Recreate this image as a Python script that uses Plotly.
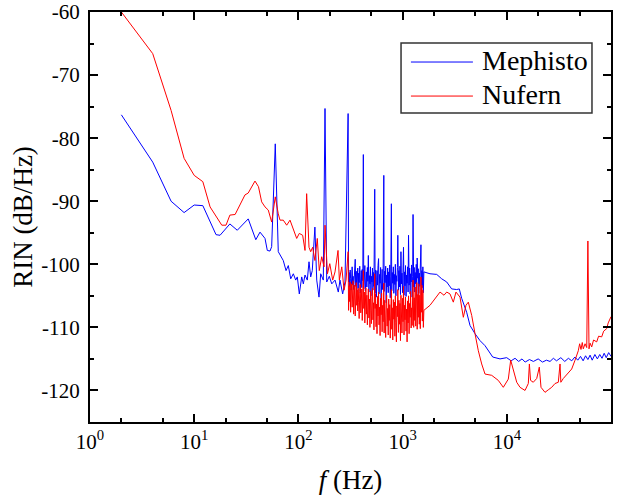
import plotly.graph_objects as go

# ---------------- data ----------------
# Mephisto (blue)
meph_f_low = [2, 4, 6, 8, 10, 12.1, 16.2, 17.7, 22, 25.9, 33, 39, 42.8, 47.8, 50.3, 53.4, 55.4,
              60, 64.1, 67.6, 71.6, 76.1, 80, 84.4, 89.4, 94.2, 97.6, 102, 107.6, 111.5, 115.7,
              121.7, 126.4, 131.2, 135.9, 144, 149.9, 157.7, 163.7, 173.4, 180, 187, 198, 209,
              224.6, 241.5, 250.6, 266, 280]
meph_db_low = [-76.3, -83.8, -90.0, -91.8, -90.6, -90.7, -95.3, -95.4, -93.6, -94.6, -92.8, -96.1,
               -94.9, -95.9, -97.8, -97.9, -97.2, -80.9, -98.0, -98.8, -99.4, -101.0, -100.2,
               -102.3, -101.5, -102.5, -102.0, -104.7, -102.0, -103.1, -101.7, -102.5, -99.6,
               -102.0, -101.0, -94.1, -102.5, -105.2, -101.5, -102.5, -75.3, -102.8, -101.9,
               -103.1, -102.5, -104.4, -102.5, -104.7, -102.8]

# shared frequency grid of the dense 300 Hz - 1.6 kHz section
mid_f = [300, 303, 307, 310, 314, 317, 321, 324, 328, 332,
         335, 339, 343, 347, 351, 355, 359, 363, 367, 371,
         375, 379, 383, 388, 392, 397, 401, 406, 410, 415,
         420, 424, 429, 434, 439, 444, 449, 454, 459, 464,
         469, 475, 480, 486, 491, 497, 502, 508, 514, 519,
         525, 531, 540, 545, 550, 556, 562, 568, 575, 581,
         588, 594, 601, 608, 615, 622, 629, 636, 643, 650,
         660, 665, 673, 680, 688, 696, 703, 711, 719, 728,
         736, 744, 753, 761, 770, 780, 787, 796, 805, 815,
         824, 833, 843, 852, 862, 872, 881, 891, 900, 912,
         922, 932, 943, 954, 964, 975, 986, 998, 1009, 1020,
         1032, 1044, 1055, 1067, 1079, 1092, 1104, 1116, 1129, 1140,
         1155, 1168, 1181, 1194, 1208, 1221, 1235, 1249, 1260, 1278,
         1292, 1307, 1321, 1336, 1352, 1367, 1380, 1398, 1414, 1430,
         1446, 1462, 1479, 1500, 1513, 1530, 1547, 1565, 1582, 1600]
meph_db_mid = [-76.1, -102.8, -101.3, -103.6, -100.9, -102.2, -104.1, -101.6, -100.4, -103.3,
               -101.9, -104.0, -102.4, -100.7, -99.2, -103.5, -101.1, -104.3, -102.0, -100.6,
               -103.8, -101.4, -102.9, -100.3, -104.5, -102.1, -101.0, -103.7, -100.8, -102.6,
               -82.6, -103.9, -101.5, -100.2, -104.2, -102.3, -101.2, -103.6, -100.5, -102.7,
               -98.6, -104.4, -101.8, -103.1, -100.4, -105.0, -101.9, -102.8, -100.6, -104.1,
               -101.3, -103.5, -88.1, -104.6, -100.9, -102.4, -105.2, -101.0, -103.3, -100.2,
               -99.1, -104.7, -101.6, -103.0, -100.5, -105.6, -102.1, -100.8, -104.0, -101.4,
               -85.9, -104.3, -101.1, -102.9, -100.3, -106.1, -101.7, -103.6, -100.6, -104.5,
               -101.2, -103.4, -100.1, -105.3, -102.0, -90.4, -104.2, -101.3, -103.0, -100.4,
               -104.6, -101.6, -103.2, -100.0, -105.0, -101.8, -102.7, -100.5, -95.4, -104.1,
               -101.0, -103.6, -100.3, -104.8, -98.0, -103.1, -101.4, -104.5, -100.6, -97.3,
               -104.9, -101.2, -103.4, -100.2, -105.1, -101.7, -103.0, -100.4, -104.4, -95.4,
               -103.3, -100.6, -104.7, -101.5, -102.8, -100.1, -105.2, -101.9, -92.1, -103.6,
               -100.5, -104.4, -101.3, -103.1, -100.0, -104.9, -99.0, -102.2, -100.7, -104.6,
               -101.4, -103.5, -100.3, -96.9, -104.8, -101.0, -103.7, -100.4, -104.5, -101.2]

meph_f_high = [1832, 2125, 2373, 2649, 2958, 3302, 3500, 3691, 4120, 4436, 4954, 5533, 6180, 6650,
               7325, 8604, 9976, 11000, 12000, 13000, 14000, 15000, 16500, 18000, 20000, 22000,
               24000, 26000, 28000, 30000, 33000, 36000, 39000, 42000, 45000, 48000, 51000, 54000,
               57000, 60000, 63000, 66000, 70000, 74000, 78000, 82000, 86000, 90000, 95000, 100000]
meph_db_high = [-101.5, -101.6, -102.3, -102.8, -103.9, -104.0, -103.9, -105.4, -107.6, -109.7,
                -111.0, -112.1, -112.9, -113.7, -114.7, -115.0, -114.8, -115.3, -114.9, -115.4,
                -115.0, -115.5, -115.1, -115.4, -115.0, -115.5, -115.2, -115.4, -114.9, -115.3,
                -114.8, -115.4, -114.9, -115.3, -114.7, -115.2, -114.6, -115.3, -114.5, -115.1,
                -114.4, -115.2, -114.3, -115.0, -114.3, -114.9, -114.1, -114.8, -114.0, -114.6]

# Nufern (red)
nuf_f_low = [2, 4, 6, 8, 10, 12.1, 14.2, 18.4, 20.2, 22, 24.7, 30.7, 33, 38.3, 41.4, 44.4, 47.8,
             51.4, 55.4, 60, 64.1, 66.6, 71.6, 77.2, 83.1, 89.4, 96.3, 102, 109.9, 115.7, 120,
             126.4, 131.2, 137, 144, 151.8, 158.6, 167.4, 176.3, 180, 190, 200, 213.4, 224.6,
             240, 247.3, 260.8, 274.3, 286.6]
nuf_db_low = [-60.0, -66.6, -75.6, -83.2, -85.9, -86.9, -90.9, -93.8, -93.8, -92.2, -92.1, -89.0,
              -88.7, -86.8, -87.7, -90.1, -90.9, -91.4, -93.3, -89.3, -92.0, -93.0, -93.0, -93.8,
              -93.0, -94.6, -95.9, -95.1, -95.4, -97.8, -88.8, -97.3, -98.0, -97.3, -99.4, -95.9,
              -101.0, -98.8, -100.4, -93.8, -101.5, -99.9, -102.5, -101.2, -97.8, -102.5, -100.4,
              -104.1, -102.5]

nuf_db_mid = [-98.0, -107.3, -103.4, -105.9, -102.8, -107.6, -104.2, -103.1, -106.8, -104.5,
              -102.6, -107.9, -105.0, -103.3, -108.2, -104.7, -102.9, -106.5, -104.1, -107.4,
              -103.8, -106.1, -108.6, -104.3, -103.2, -107.7, -105.1, -103.9, -108.9, -104.6,
              -101.0, -107.0, -104.4, -109.3, -105.2, -103.7, -107.9, -104.9, -109.6, -106.0,
              -103.9, -108.5, -105.5, -110.0, -104.2, -107.3, -109.4, -105.0, -103.8, -108.8,
              -106.1, -110.4, -101.5, -107.0, -104.7, -109.9, -106.3, -111.0, -105.1, -108.2,
              -104.4, -109.6, -106.8, -111.3, -105.4, -108.0, -104.6, -110.7, -106.5, -109.1,
              -103.0, -110.9, -105.7, -108.6, -111.6, -106.1, -104.9, -109.8, -107.0, -111.2,
              -105.5, -108.9, -106.4, -111.7, -104.8, -104.0, -110.3, -106.9, -112.0, -105.6,
              -108.7, -106.0, -111.4, -105.0, -109.2, -112.3, -106.6, -108.3, -104.0, -110.8,
              -105.7, -109.5, -106.2, -112.1, -104.9, -108.0, -110.9, -105.4, -109.1, -103.5,
              -111.2, -106.5, -108.8, -105.2, -110.6, -107.1, -112.3, -105.8, -109.3, -105.0,
              -111.0, -106.2, -108.4, -104.3, -110.1, -106.9, -109.7, -104.7, -102.5, -110.0,
              -105.3, -108.9, -103.6, -109.8, -106.0, -102.9, -110.3, -104.8, -108.4, -103.1,
              -109.5, -104.9, -110.2, -102.0, -107.6, -103.3, -109.0, -104.1, -110.0, -107.3]

nuf_f_high = [1832, 2047, 2286, 2495, 2649, 2850, 3067, 3253, 3556, 3827, 4056, 4273, 4604, 4954,
              5330, 5743, 6180, 7163, 8284, 9258, 9976, 10340, 10900, 11500, 12450, 13390, 14960,
              16080, 16470, 16900, 17950, 19370, 20510, 21290, 23260, 25000, 26980, 29010, 31220,
              32420, 33000, 34860, 38910, 41950, 45170, 48560, 50000, 51520, 53000, 54210, 56340,
              58500, 60000, 61500, 63000, 65300, 68000, 72900, 76000, 81400, 85000, 90900, 94000,
              97800, 100000]
nuf_db_high = [-106.5, -105.4, -104.4, -104.9, -104.4, -104.7, -106.0, -104.4, -105.2, -108.4,
               -106.5, -106.0, -108.1, -111.0, -113.7, -115.8, -117.4, -117.6, -118.4, -119.5,
               -118.7, -118.2, -115.2, -116.8, -118.7, -119.5, -120.0, -118.9, -115.8, -118.4,
               -118.7, -118.1, -116.3, -119.5, -120.3, -119.9, -119.5, -118.9, -118.7, -115.8,
               -118.7, -118.1, -117.3, -116.6, -115.2, -113.7, -112.6, -113.5, -112.4, -113.4,
               -112.6, -113.2, -96.3, -113.4, -112.5, -113.1, -112.0, -112.3, -111.4, -111.5,
               -110.6, -110.2, -109.3, -108.6, -108.3]

x_tickvals = [1, 10, 100, 1000, 10000, 100000]
x_ticktext = ["10<sup>0</sup>", "10<sup>1</sup>", "10<sup>2</sup>", "10<sup>3</sup>",
              "10<sup>4</sup>", "10<sup>5</sup>"]
y_tickvals = [-120, -110, -100, -90, -80, -70, -60]
y_ticktext = ["-120", "-110", "-100", "-90", "-80", "-70", "-60"]

series_names = ["Mephisto", "Nufern"]
series_colors = ["#0000FF", "#FF0000"]

# ---------------- figure ----------------
meph_f = meph_f_low + mid_f + meph_f_high
meph_db = meph_db_low + meph_db_mid + meph_db_high
nuf_f = nuf_f_low + mid_f + nuf_f_high
nuf_db = nuf_db_low + nuf_db_mid + nuf_db_high

FONT = "Liberation Serif, Tinos, Times New Roman, DejaVu Serif, serif"

fig = go.Figure()
fig.add_trace(go.Scatter(x=meph_f, y=meph_db, mode="lines", name=series_names[0],
                         line=dict(color=series_colors[0], width=1), showlegend=False))
fig.add_trace(go.Scatter(x=nuf_f, y=nuf_db, mode="lines", name=series_names[1],
                         line=dict(color=series_colors[1], width=1), showlegend=False))

axis_common = dict(showline=True, linecolor="black", linewidth=2, mirror="allticks",
                   ticks="inside", ticklen=8, tickwidth=1.5, tickcolor="black",
                   showgrid=False, zeroline=False, automargin=False,
                   tickfont=dict(family=FONT, size=21, color="black"))

fig.update_xaxes(type="log", range=[0, 5], tickvals=x_tickvals, ticktext=x_ticktext,
                 title=dict(text="<i>f</i> (Hz)", font=dict(family=FONT, size=27, color="black"),
                            standoff=17),
                 minor=dict(ticks="inside", ticklen=4, tickwidth=1.5, tickcolor="black",
                            showgrid=False),
                 **axis_common)
fig.update_yaxes(range=[-125, -60], tickvals=y_tickvals, ticktext=y_ticktext,
                 title=dict(text="RIN (dB/Hz)", font=dict(family=FONT, size=27, color="black"),
                            standoff=1),
                 minor=dict(dtick=5, ticks="inside", ticklen=4, tickwidth=1.5, tickcolor="black",
                            showgrid=False),
                 ticklabelstandoff=4,
                 **axis_common)

# legend box drawn in paper coordinates (layout only)
legend_box = dict(x0=0.597, x1=0.9635, y0=0.7537, y1=0.9244)
legend_rows_y = [0.878, 0.795]
shapes = [dict(type="rect", xref="paper", yref="paper", **legend_box,
               line=dict(color="#333333", width=1.5), fillcolor="white", layer="above")]
annotations = []
for name, color, ry in zip(series_names, series_colors, legend_rows_y):
    shapes.append(dict(type="line", xref="paper", yref="paper", x0=0.616, x1=0.735, y0=ry, y1=ry,
                       line=dict(color=color, width=1), layer="above"))
    annotations.append(dict(xref="paper", yref="paper", x=0.7486, y=ry + 0.004, text=name,
                            showarrow=False, xanchor="left", yanchor="middle",
                            font=dict(family=FONT, size=28, color="black")))

fig.update_layout(
    width=624, height=499,
    margin=dict(l=90, r=13, t=12, b=77),
    paper_bgcolor="white", plot_bgcolor="white",
    font=dict(family=FONT, color="black"),
    showlegend=False,
    shapes=shapes, annotations=annotations,
)

fig.write_html("out.html", config={"displayModeBar": False},
               post_script="document.body.style.margin='0';")
